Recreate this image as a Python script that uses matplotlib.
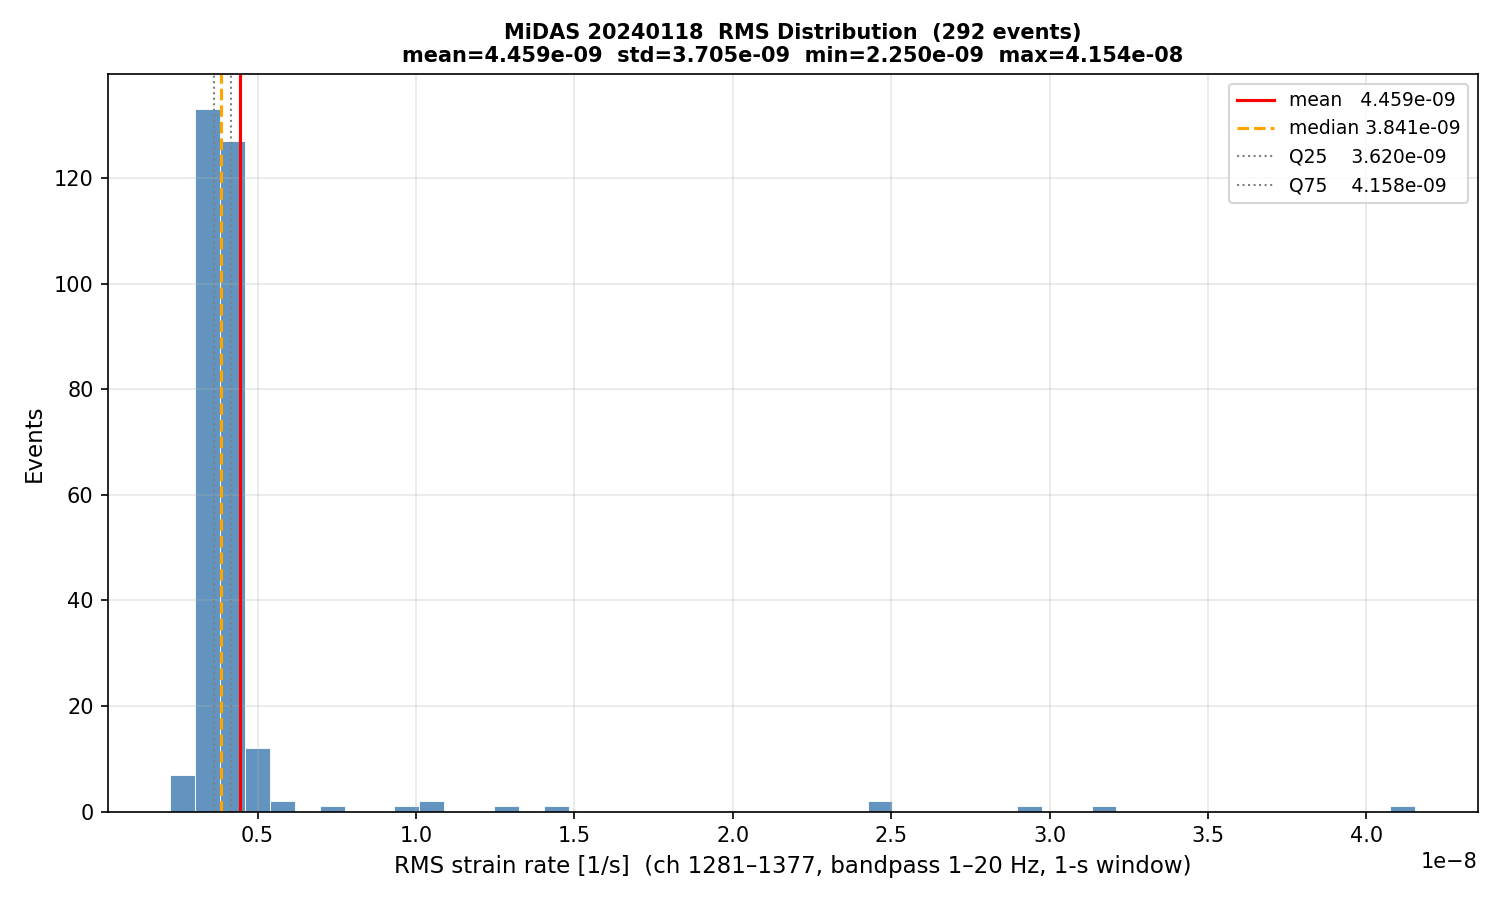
import matplotlib
matplotlib.use('Agg')
import matplotlib.pyplot as plt
import numpy as np

# Summary stats (as printed in title / legend).
rms_min, rms_max = 2.250e-09, 4.154e-08
rms_mean, rms_std = 4.459e-09, 3.705e-09
rms_median = 3.841e-09
rms_q25, rms_q75 = 3.620e-09, 4.158e-09
n_events = 292

# Histogram counts per bin (50 bins between min and max).
n_bins = 50
counts = [7, 133, 127, 12, 2, 0, 1, 0, 0, 1,
          2, 0, 0, 1, 0, 1, 0, 0, 0, 0,
          0, 0, 0, 0, 0, 0, 0, 0, 2, 0,
          0, 0, 0, 0, 1, 0, 0, 1, 0, 0,
          0, 0, 0, 0, 0, 0, 0, 0, 0, 1]

edges = np.linspace(rms_min, rms_max, n_bins + 1)
centers = 0.5 * (edges[:-1] + edges[1:])

fig, ax = plt.subplots(figsize=(10, 6), dpi=150)
ax.hist(centers, bins=edges, weights=counts, color='steelblue', alpha=0.85,
        edgecolor='white', linewidth=0.5)

ax.axvline(rms_mean, color='red', lw=1.5, label='mean   {:.3e}'.format(rms_mean))
ax.axvline(rms_median, color='orange', lw=1.5, ls='--', label='median {:.3e}'.format(rms_median))
ax.axvline(rms_q25, color='gray', lw=1, ls=':', label='Q25    {:.3e}'.format(rms_q25))
ax.axvline(rms_q75, color='gray', lw=1, ls=':', label='Q75    {:.3e}'.format(rms_q75))

ax.set_xlabel('RMS strain rate [1/s]  (ch 1281\u20131377, bandpass 1\u201320 Hz, 1-s window)', fontsize=11)
ax.set_ylabel('Events', fontsize=11)
ax.set_title('MiDAS 20240118  RMS Distribution  ({} events)\n'
             'mean={:.3e}  std={:.3e}  min={:.3e}  max={:.3e}'.format(
                 n_events, rms_mean, rms_std, rms_min, rms_max),
             fontsize=10, fontweight='bold')
ax.legend(fontsize=9)
ax.grid(alpha=0.3)
fig.tight_layout()
fig.savefig('out.png')
